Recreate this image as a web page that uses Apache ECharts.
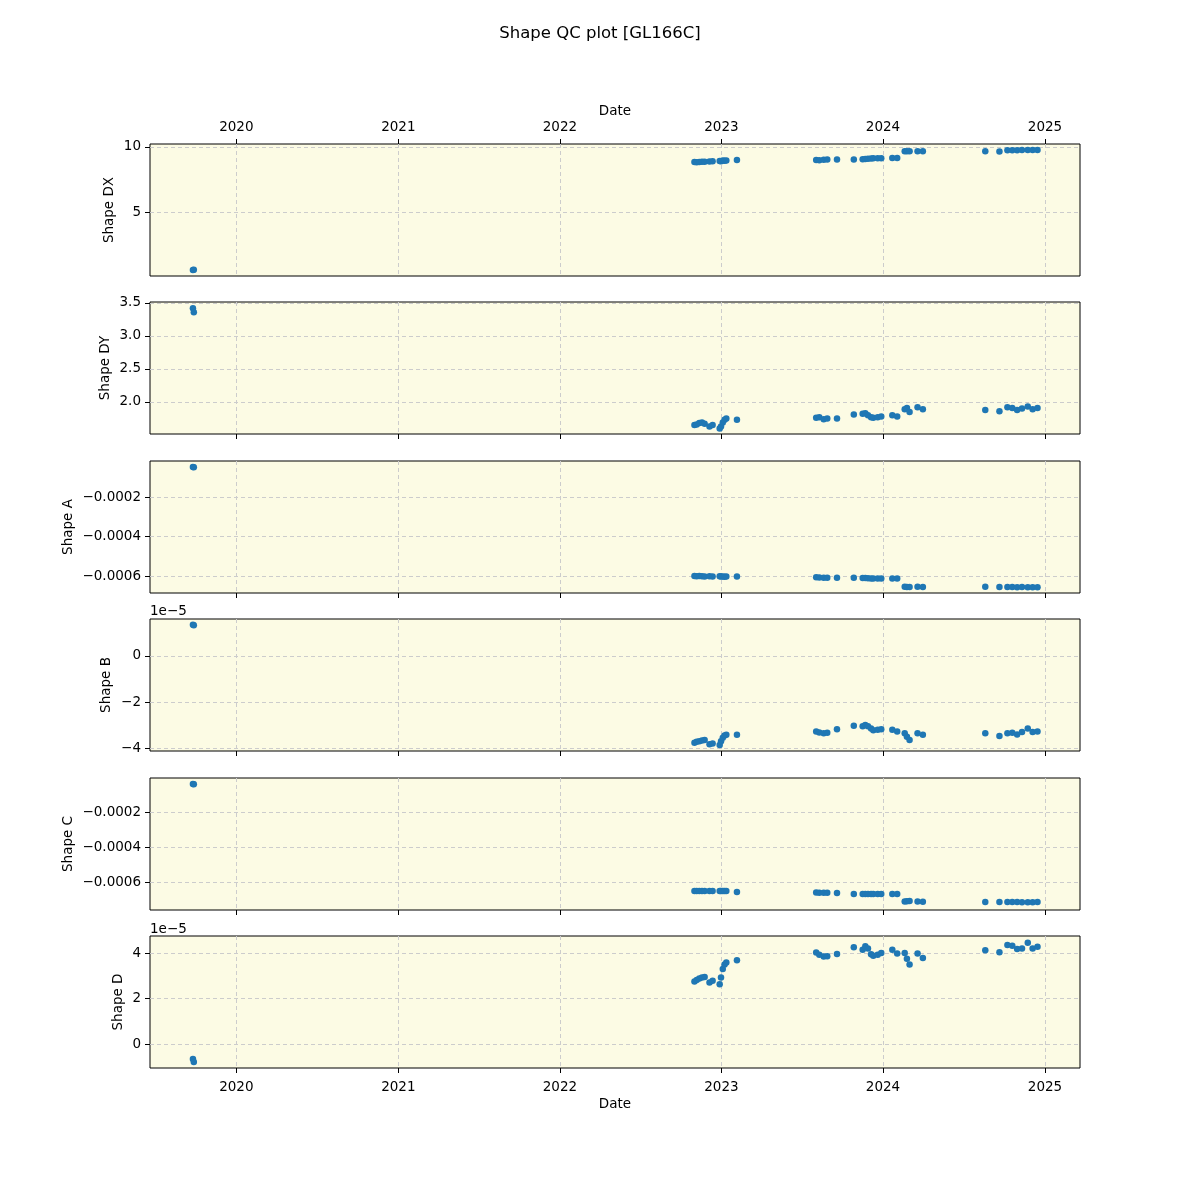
<!DOCTYPE html>
<html><head><meta charset="utf-8">
<script src="https://cdn.jsdelivr.net/npm/echarts@6/dist/echarts.min.js"></script>
<style>html,body{margin:0;padding:0;background:#fff}#c{width:1200px;height:1200px}</style>
</head><body><div id="c"></div>
<script>
const dates = ['2019-09-25','2019-09-27','2022-11-01','2022-11-06','2022-11-12','2022-11-18','2022-11-24','2022-12-05','2022-12-12','2022-12-28','2022-12-31','2023-01-04','2023-01-08','2023-01-12','2023-02-05','2023-08-03','2023-08-10','2023-08-20','2023-08-28','2023-09-19','2023-10-27','2023-11-16','2023-11-22','2023-11-28','2023-12-05','2023-12-10','2023-12-20','2023-12-28','2024-01-22','2024-02-02','2024-02-19','2024-02-24','2024-03-01','2024-03-19','2024-03-31','2024-08-19','2024-09-20','2024-10-08','2024-10-19','2024-10-30','2024-11-10','2024-11-23','2024-12-04','2024-12-15'];
const shapeDX = [0.54,0.56,8.85,8.83,8.85,8.87,8.87,8.88,8.9,8.92,8.9,8.97,8.95,8.97,9.0,9.0,8.98,9.02,9.03,9.04,9.04,9.05,9.08,9.1,9.12,9.13,9.13,9.13,9.15,9.15,9.68,9.68,9.68,9.68,9.67,9.67,9.65,9.75,9.75,9.75,9.76,9.76,9.76,9.76];
const shapeDY = [3.42,3.36,1.65,1.66,1.68,1.69,1.67,1.63,1.65,1.60,1.63,1.69,1.73,1.75,1.73,1.76,1.77,1.74,1.75,1.75,1.81,1.82,1.83,1.80,1.77,1.76,1.77,1.78,1.80,1.78,1.89,1.91,1.85,1.92,1.89,1.88,1.86,1.92,1.91,1.88,1.90,1.93,1.89,1.91];
const shapeA = [-0.0000481,-0.0000495,-0.000600,-0.000601,-0.000600,-0.000601,-0.000602,-0.000601,-0.000602,-0.000601,-0.000603,-0.000602,-0.000604,-0.000603,-0.000603,-0.000606,-0.000607,-0.000609,-0.000609,-0.000609,-0.000609,-0.000610,-0.000610,-0.000611,-0.000612,-0.000612,-0.000612,-0.000612,-0.000612,-0.000613,-0.000654,-0.000656,-0.000655,-0.000654,-0.000655,-0.000654,-0.000655,-0.000655,-0.000656,-0.000657,-0.000656,-0.000657,-0.000657,-0.000657];
const shapeB = [1.35e-5,1.33e-5,-3.76e-5,-3.72e-5,-3.70e-5,-3.66e-5,-3.64e-5,-3.83e-5,-3.79e-5,-3.86e-5,-3.70e-5,-3.55e-5,-3.45e-5,-3.42e-5,-3.42e-5,-3.28e-5,-3.32e-5,-3.35e-5,-3.33e-5,-3.18e-5,-3.03e-5,-3.05e-5,-2.99e-5,-3.05e-5,-3.15e-5,-3.22e-5,-3.20e-5,-3.18e-5,-3.20e-5,-3.28e-5,-3.35e-5,-3.50e-5,-3.64e-5,-3.35e-5,-3.42e-5,-3.35e-5,-3.47e-5,-3.35e-5,-3.33e-5,-3.40e-5,-3.30e-5,-3.15e-5,-3.30e-5,-3.28e-5];
const shapeC = [-0.000040,-0.000041,-0.000651,-0.000651,-0.000651,-0.000651,-0.000651,-0.000651,-0.000651,-0.000651,-0.000652,-0.000652,-0.000652,-0.000652,-0.000657,-0.000660,-0.000661,-0.000662,-0.000662,-0.000663,-0.000669,-0.000669,-0.000669,-0.000669,-0.000669,-0.000669,-0.000669,-0.000669,-0.000669,-0.000669,-0.000712,-0.000710,-0.000709,-0.000712,-0.000713,-0.000714,-0.000714,-0.000714,-0.000714,-0.000714,-0.000715,-0.000716,-0.000715,-0.000714];
const shapeD = [-0.66e-5,-0.79e-5,2.75e-5,2.82e-5,2.88e-5,2.92e-5,2.95e-5,2.70e-5,2.78e-5,2.63e-5,2.92e-5,3.30e-5,3.50e-5,3.58e-5,3.68e-5,4.02e-5,3.92e-5,3.85e-5,3.86e-5,3.96e-5,4.25e-5,4.15e-5,4.30e-5,4.20e-5,3.95e-5,3.88e-5,3.92e-5,4.00e-5,4.15e-5,3.98e-5,4.00e-5,3.75e-5,3.50e-5,3.98e-5,3.78e-5,4.12e-5,4.03e-5,4.35e-5,4.32e-5,4.18e-5,4.20e-5,4.45e-5,4.20e-5,4.28e-5];
const xTickYears = [2020,2021,2022,2023,2024,2025];
const panelNames = ['Shape DX','Shape DY','Shape A','Shape B','Shape C','Shape D'];
const yTicks = [[5,10],[2.0,2.5,3.0,3.5],[-0.0006,-0.0004,-0.0002],[-4e-5,-2e-5,0],[-0.0006,-0.0004,-0.0002],[0,2e-5,4e-5]];
const yTickLabels = [['5','10'],['2.0','2.5','3.0','3.5'],['\u22120.0006','\u22120.0004','\u22120.0002'],['\u22124','\u22122','0'],['\u22120.0006','\u22120.0004','\u22120.0002'],['0','2','4']];
const yRanges = [[0.08,10.23],[1.515,3.515],[-0.000686,-0.0000177],[-4.12e-5,1.60e-5],[-0.00076,-0.0000057],[-1.055e-5,4.75e-5]];
const seriesValues = [shapeDX,shapeDY,shapeA,shapeB,shapeC,shapeD];

const FONT = 'DejaVu Sans';
const tops = [144,302,461,619,778,936];
const nameGaps = [34,38,75,37,75,25];
const toTs = s => { const p = s.split('-').map(Number); return Date.UTC(p[0], p[1]-1, p[2]); };
const xMin = Date.UTC(2019,5,20);
const xMax = Date.UTC(2025,2,21);
const xTickVals = xTickYears.map(y => Date.UTC(y,0,1));
const grid=[], xAxis=[], yAxis=[], series=[];
for (let i=0;i<6;i++){
  grid.push({left:150,right:120,top:tops[i],height:132,show:true,backgroundColor:'#fcfbe4',borderColor:'#000',borderWidth:1,containLabel:false});
  const isTop = i===0, isBottom = i===5;
  xAxis.push({type:'value',gridIndex:i,min:xMin,max:xMax,position:isTop?'top':'bottom',
    name:(isTop||isBottom)?'Date':'',nameLocation:'middle',nameGap:isTop?26:29,
    nameTextStyle:{fontFamily:FONT,fontSize:13.5,color:'#000'},
    axisLine:{show:false,onZero:false},
    axisTick:{show:true,inside:false,length:5,lineStyle:{color:'#000',width:1},customValues:xTickVals},
    axisLabel:{show:isTop||isBottom,customValues:xTickVals,fontFamily:FONT,fontSize:13.5,color:'#000',margin:isTop?10:12,
      formatter:v=>String(new Date(v).getUTCFullYear())},
    splitLine:{show:true,lineStyle:{color:'#cccccc',type:[4,3],width:1}}
  });
  const tv = yTicks[i], tl = yTickLabels[i];
  yAxis.push({type:'value',gridIndex:i,min:yRanges[i][0],max:yRanges[i][1],
    name:panelNames[i],nameLocation:'middle',nameGap:nameGaps[i],nameRotate:90,nameMoveOverlap:false,
    nameTextStyle:{fontFamily:FONT,fontSize:13.5,color:'#000'},
    axisLine:{show:false,onZero:false},
    axisTick:{show:true,inside:false,length:5,lineStyle:{color:'#000',width:1},customValues:tv},
    axisLabel:{customValues:tv,fontFamily:FONT,fontSize:13.5,color:'#000',margin:9,verticalAlign:'middle',lineHeight:13,padding:[4,0,0,0],
      formatter:v=>{const k=tv.findIndex(t=>Math.abs(t-v)<Math.abs(t)*1e-6+1e-12);return k>=0?tl[k]:'';}},
    splitLine:{show:true,lineStyle:{color:'#cccccc',type:[4,3],width:1}}
  });
  series.push({type:'scatter',xAxisIndex:i,yAxisIndex:i,symbol:'circle',symbolSize:6.5,
    itemStyle:{color:'#1f77b4',opacity:1},
    data:dates.map((d,k)=>[toTs(d),seriesValues[i][k]]),silent:true,animation:false});
}
const chart = echarts.init(document.getElementById('c'),null,{renderer:'canvas'});
chart.setOption({
  backgroundColor:'#fff',animation:false,
  title:{text:'Shape QC plot [GL166C]',left:'center',top:20,textStyle:{fontFamily:FONT,fontSize:16.5,fontWeight:'normal',color:'#000'}},
  grid,xAxis,yAxis,series,
  graphic:[
    {type:'text',left:150,top:604,style:{text:'1e\u22125',font:'13.5px "DejaVu Sans"',fill:'#000'}},
    {type:'text',left:150,top:922,style:{text:'1e\u22125',font:'13.5px "DejaVu Sans"',fill:'#000'}}
  ]
});
</script></body></html>
